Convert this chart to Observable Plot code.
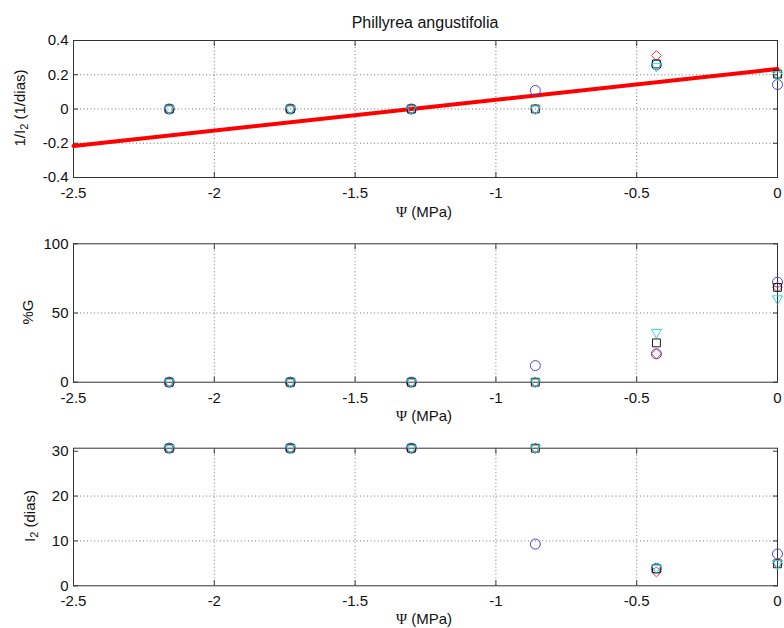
<!DOCTYPE html>
<html>
<head>
<meta charset="utf-8">
<script src="https://cdn.jsdelivr.net/npm/d3@7"></script>
<script src="https://cdn.jsdelivr.net/npm/@observablehq/plot@0.6"></script>
<style>
  body { margin: 0; background: #fff; }
  #wrap { position: relative; width: 784px; height: 628px; overflow: hidden; font-family: "Liberation Sans", Arial, sans-serif; color: #111; }
  .panel { position: absolute; left: 0; }
  .lbl { position: absolute; font-size: 15px; line-height: 15px; white-space: nowrap; transform: translate(-50%, -50%); }
  .ylbl { transform: translate(-50%, -50%) rotate(-90deg); }
  .ttl { font-size: 16px; }
  .psi { font-family: "Liberation Serif", "Times New Roman", serif; }
  sub { font-size: 11px; vertical-align: -3px; line-height: 0; }
</style>
</head>
<body>
<div id="wrap"></div>
<script>
// ---- data ----
const title = "Phillyrea angustifolia";
const psi = [-2.16, -1.73, -1.30, -0.86, -0.43, 0];
const xTicks = [-2.5, -2, -1.5, -1, -0.5, 0];

// 1/I2 (1/dias)
const invCircle   = [0, 0, 0, 0.108, 0.258, 0.143];
const invDiamond  = [0, 0, 0, 0, 0.312, 0.200];
const invSquare   = [0, 0, 0, 0, 0.263, 0.204];
const invTriangle = [0, 0, 0, 0, 0.250, 0.200];
const fitX = [-2.5, 0];
const fitY = [-0.216, 0.234];
const invTicks = [-0.4, -0.2, 0, 0.2, 0.4];

// %G
const gCircle   = [0, 0, 0, 12, 20.5, 72.3];
const gDiamond  = [0, 0, 0, 0, 20.5, 68.7];
const gSquare   = [0, 0, 0, 0, 28.4, 68.5];
const gTriangle = [0, 0, 0, 0, 36.1, 60.3];
const gTicks = [0, 50, 100];

// I2 (dias)
const iCircle   = [30.67, 30.67, 30.67, 9.3, 3.9, 7.1];
const iDiamond  = [30.67, 30.67, 30.67, 30.67, 3.1, 5.0];
const iSquare   = [30.67, 30.67, 30.67, 30.67, 3.8, 4.9];
const iTriangle = [30.67, 30.67, 30.67, 30.67, 4.0, 5.0];
const iTicks = [0, 10, 20, 30];

// ---- rendering ----
const triDown = {
  draw(ctx, size) {
    const r = Math.sqrt(size) * 0.6824, t = r / 2, u = r * Math.sqrt(3) / 2;
    ctx.moveTo(0, r); ctx.lineTo(-u, -t); ctx.lineTo(u, -t); ctx.closePath();
  }
};
const seriesStyle = [
  {symbol: "circle",   stroke: "#4646d2", r: 5},
  {symbol: "diamond2", stroke: "#e03a3a", r: 4.5},
  {symbol: "square2",  stroke: "#1a1a1a", r: 5},
  {symbol: triDown,    stroke: "#2fd6d6", r: 4.8}
];
const fmt = d => String(d);
const none = () => "";

function rows(arrs) {
  return arrs.map(a => a.map((v, i) => ({x: psi[i], y: v})));
}

function panel({top, height, mTop, mBottom, yDomain, yTicks, series, extra = []}) {
  const grid = {stroke: "#777", strokeOpacity: 1, strokeDasharray: "1,2.5"};
  const svg = Plot.plot({
    width: 784, height,
    marginLeft: 73, marginRight: 7, marginTop: mTop, marginBottom: mBottom,
    style: {fontFamily: "Liberation Sans, Arial, sans-serif", fontSize: "15px", color: "#111", background: "transparent", overflow: "visible"},
    x: {domain: [-2.5, 0]},
    y: {domain: yDomain},
    marks: [
      Plot.gridX(xTicks.slice(1, -1), grid),
      Plot.gridY(yTicks.slice(1, -1), grid),
      Plot.axisX({ticks: xTicks, tickSize: -5, tickPadding: 15, tickFormat: fmt, label: null, stroke: "#333"}),
      Plot.axisX({anchor: "top", ticks: xTicks, tickSize: -5, tickFormat: none, label: null, stroke: "#333"}),
      Plot.axisY({ticks: yTicks, tickSize: -5, tickPadding: 10, tickFormat: fmt, label: null, stroke: "#333"}),
      Plot.axisY({anchor: "right", ticks: yTicks, tickSize: -5, tickFormat: none, label: null, stroke: "#333"}),
      Plot.frame({stroke: "#333"}),
      ...extra,
      ...series.map((data, k) => Plot.dot(data, {
        x: "x", y: "y", symbol: seriesStyle[k].symbol, stroke: seriesStyle[k].stroke,
        r: seriesStyle[k].r, strokeWidth: 1, fill: "none"
      }))
    ]
  });
  svg.classList.add("panel");
  svg.style.top = top + "px";
  return svg;
}

const wrap = document.getElementById("wrap");

wrap.appendChild(panel({
  top: 0, height: 215, mTop: 40, mBottom: 38,
  yDomain: [-0.4, 0.4], yTicks: invTicks,
  series: rows([invCircle, invDiamond, invSquare, invTriangle]),
  extra: [Plot.line(fitX.map((x, i) => ({x, y: fitY[i]})), {x: "x", y: "y", stroke: "#ff0000", strokeWidth: 4})]
}));
wrap.appendChild(panel({
  top: 215, height: 200, mTop: 28.3, mBottom: 33.3,
  yDomain: [0, 100], yTicks: gTicks,
  series: rows([gCircle, gDiamond, gSquare, gTriangle])
}));
wrap.appendChild(panel({
  top: 415, height: 213, mTop: 32.7, mBottom: 42.7,
  yDomain: [0, 30.67], yTicks: iTicks,
  series: rows([iCircle, iDiamond, iSquare, iTriangle])
}));

function label(html, x, y, cls = "") {
  const d = document.createElement("div");
  d.className = "lbl " + cls;
  d.style.left = x + "px";
  d.style.top = y + "px";
  d.innerHTML = html;
  wrap.appendChild(d);
}
label(title, 425, 22, "ttl");
const xl = '<span class="psi">&Psi;</span> (MPa)';
label(xl, 424, 212);
label(xl, 424, 416);
label(xl, 424, 619);
label('1/I<sub>2</sub> (1/dias)', 19, 108, "ylbl");
label('%G', 27, 312, "ylbl");
label('I<sub>2</sub> (dias)', 29, 516, "ylbl");
</script>
</body>
</html>
